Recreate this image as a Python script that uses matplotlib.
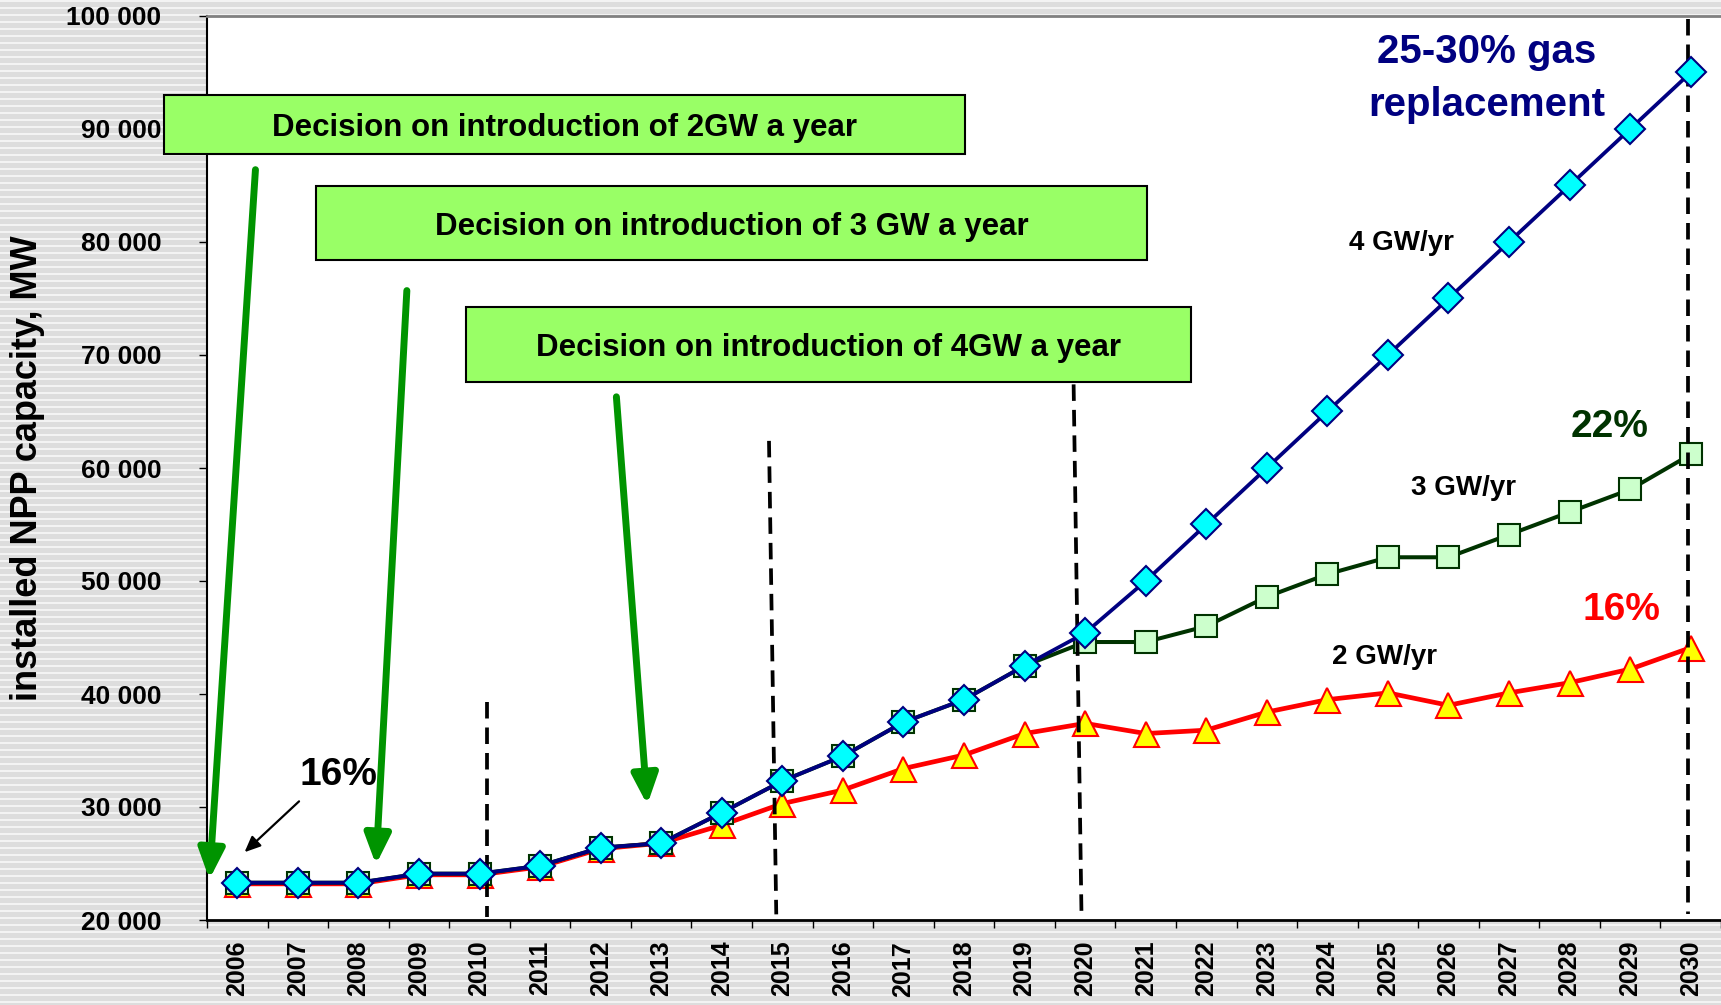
#!/usr/bin/env python3
"""
Installed NPP capacity scenarios, 2006-2030 (2 / 3 / 4 GW a year)
"""

import numpy as np
import matplotlib
matplotlib.use("Agg")
import matplotlib.pyplot as plt
from matplotlib.patches import Rectangle

plt.rcParams['font.family'] = ['Liberation Sans', 'DejaVu Sans']
plt.rcParams['font.weight'] = 'bold'

# ---- data (MW) ----
years = list(range(2006, 2031))
cap_4gw = [23300, 23300, 23300, 24100, 24100, 24800, 26400, 26800, 29500, 32300,
           34500, 37500, 39500, 42500, 45400, 50000, 55000, 60000, 65000, 70000,
           75000, 80000, 85000, 90000, 95000]
cap_3gw = [23300, 23300, 23300, 24100, 24100, 24800, 26400, 26800, 29500, 32300,
           34500, 37500, 39500, 42500, 44600, 44600, 46000, 48600, 50600, 52100,
           52100, 54100, 56100, 58100, 61200]
cap_2gw = [23200, 23200, 23200, 24000, 24000, 24700, 26300, 26800, 28400, 30300,
           31500, 33400, 34600, 36500, 37400, 36500, 36800, 38400, 39500, 40100,
           39000, 40100, 41000, 42200, 44100]

y_ticks = [20000, 30000, 40000, 50000, 60000, 70000, 80000, 90000, 100000]

# decision boxes: (label, x0, x1, y0, y1) in category index / MW
boxes = [
    ("Decision on introduction of 2GW a year", -1.21, 12.02, 87750, 93000),
    ("Decision on introduction of 3 GW a year", 1.30, 15.02, 78420, 84930),
    ("Decision on introduction of 4GW a year", 3.78, 15.75, 67630, 74240),
]
# green arrows: (tail, tip)
decision_arrows = [
    ((0.30, 86400), (-0.46, 23600)),
    ((2.80, 75700), (2.29, 24900)),
    ((6.26, 66300), (6.77, 30200)),
]
# dashed markers: (top, bottom)
dash_lines = [
    ((4.13, 39300), (4.13, 20300)),
    ((8.78, 62400), (8.90, 20500)),
    ((13.81, 67400), (13.94, 20500)),
    ((23.96, 99700), (23.96, 20500)),
]

x = np.arange(len(years))

fig = plt.figure(figsize=(17.21, 10.05), dpi=100)

# striped grey background
bg = fig.add_axes([0, 0, 1, 1], zorder=-10)
rows = np.full((1005, 1), 0.865)
for r in range(0, 1005, 7):
    rows[r:r + 2] = 0.955
bg.imshow(rows, aspect='auto', cmap='gray', vmin=0, vmax=1, interpolation='nearest')
bg.axis('off')

ax = fig.add_axes([207 / 1721, 85 / 1005, 1514 / 1721, 904 / 1005])
ax.set_facecolor('white')

ax.plot(x, cap_2gw, color='#FF0000', lw=3.4, marker='^', ms=18,
        mfc='#FFFF00', mec='#FF0000', mew=1.5, zorder=3)
ax.plot(x, cap_3gw, color='#003300', lw=2.9, marker='s', ms=16.5,
        mfc='#CCFFCC', mec='#003300', mew=1.5, zorder=4)

for (xt, yt), (xb, yb) in dash_lines:
    ax.plot([xt, xb], [yt, yb], color='black', lw=2.7,
            linestyle=(0, (4.4, 2.4)), zorder=5)

ax.plot(x, cap_4gw, color='#000080', lw=2.7, marker='D', ms=15.5,
        mfc='#00FFFF', mec='#000080', mew=1.5, zorder=6)

ax.set_xlim(-0.5, 24.5)
ax.set_ylim(20000, 100000)

ax.set_yticks(y_ticks)
ax.set_yticklabels([f"{v:,}".replace(",", " ") for v in y_ticks], fontsize=19, fontweight='bold')
ax.tick_params(axis='y', direction='out', length=6, width=1, pad=27)

ax.set_xticks(np.arange(-0.5, 25, 1))
ax.set_xticklabels([])
ax.tick_params(axis='x', which='major', direction='out', length=6, width=1)
ax.set_xticks(x, minor=True)
ax.set_xticklabels([str(y) for y in years], minor=True, rotation=90,
                   fontsize=18, fontweight='bold')
ax.tick_params(axis='x', which='minor', length=0, pad=15)

ax.spines['right'].set_visible(False)
ax.spines['top'].set_color('#808080')
ax.spines['top'].set_linewidth(2)
ax.spines['left'].set_linewidth(1.5)
ax.spines['bottom'].set_linewidth(2)

ax.set_ylabel('installed NPP capacity, MW', fontsize=26, fontweight='bold')
ax.yaxis.set_label_coords(-0.107, 0.5)

# decision boxes
for label, x0, x1, y0, y1 in boxes:
    ax.add_patch(Rectangle((x0, y0), x1 - x0, y1 - y0, facecolor='#99FF66',
                           edgecolor='black', lw=1.5, clip_on=False, zorder=8))
    ax.text((x0 + x1) / 2, (y0 + y1) / 2, label, ha='center', va='center_baseline',
            fontsize=22.5, fontweight='bold', zorder=9, clip_on=False)

# green arrows
for tail, tip in decision_arrows:
    ax.annotate('', xy=tip, xytext=tail, annotation_clip=False, zorder=7,
                arrowprops=dict(arrowstyle='-|>,head_length=1.5,head_width=0.65',
                                color='#009400', lw=5, mutation_scale=12,
                                shrinkA=0, shrinkB=0))

# 16% note on 2006
ax.annotate('', xy=(0.12, 26000), xytext=(1.02, 30500), zorder=7,
            arrowprops=dict(arrowstyle='-|>,head_length=0.8,head_width=0.35',
                            color='black', lw=1.6, mutation_scale=12,
                            shrinkA=0, shrinkB=0))
ax.text(1.67, 32800, '16%', ha='center', va='center', fontsize=28,
        fontweight='bold', color='black', zorder=9)

# scenario labels
ax.text(20.63, 94500, '25-30% gas\nreplacement', ha='center', va='center',
        fontsize=29, fontweight='bold', color='#000080', linespacing=1.5, zorder=9)
ax.text(19.22, 79900, '4 GW/yr', ha='center', va='center', fontsize=20,
        fontweight='bold', color='black', zorder=9)
ax.text(20.24, 58200, '3 GW/yr', ha='center', va='center', fontsize=20,
        fontweight='bold', color='black', zorder=9)
ax.text(18.95, 43300, '2 GW/yr', ha='center', va='center', fontsize=20,
        fontweight='bold', color='black', zorder=9)
ax.text(22.66, 63600, '22%', ha='center', va='center', fontsize=28,
        fontweight='bold', color='#003300', zorder=9)
ax.text(22.86, 47400, '16%', ha='center', va='center', fontsize=28,
        fontweight='bold', color='#FF0000', zorder=9)

fig.savefig('out.png', dpi=100)
print("saved out.png")
